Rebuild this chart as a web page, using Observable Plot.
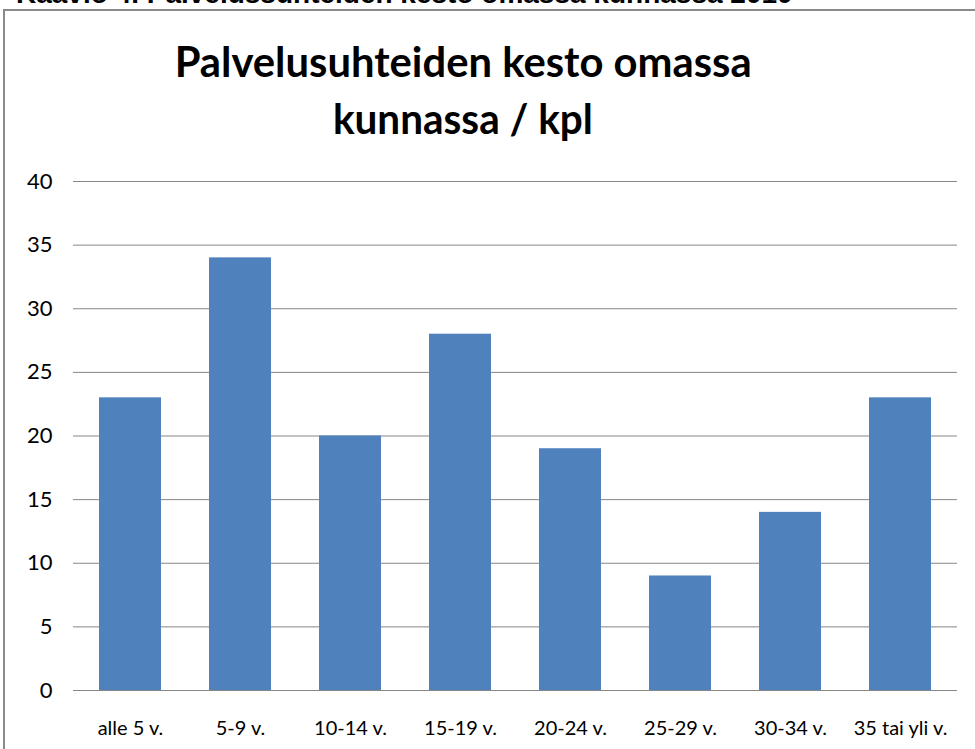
<!DOCTYPE html>
<html>
<head>
<meta charset="utf-8">
<script src="https://cdn.jsdelivr.net/npm/d3@7"></script>
<script src="https://cdn.jsdelivr.net/npm/@observablehq/plot@0.6"></script>
<style>
  html, body { margin: 0; padding: 0; background: #fff; }
  #page { position: relative; width: 975px; height: 749px; overflow: hidden; background: #fff; }
  #cut { position: absolute; left: 16px; top: -20px; font: bold 28px "Liberation Sans", Arial, sans-serif; line-height: 28px; white-space: nowrap; color: #000; }
  #frame { position: absolute; left: 3px; top: 9px; width: 1000px; height: 800px; border-left: 2px solid #8a8a8a; border-top: 2px solid #8a8a8a; }
  .title { position: absolute; left: 0; width: 926px; text-align: center; font: bold 42px Lato, "Open Sans", sans-serif; line-height: 42px; color: #000; white-space: nowrap; }
  .title span { display: inline-block; transform-origin: center; }
  #chart { position: absolute; left: 0; top: 150px; }
</style>
</head>
<body>
<div id="page">
  <div id="cut">Kaavio 4. Palvelussuhteiden kesto omassa kunnassa 2010</div>
  <div id="frame"></div>
  <div class="title" id="t1" style="top:40px"><span>Palvelusuhteiden kesto omassa</span></div>
  <div class="title" id="t2" style="top:97px"><span>kunnassa / kpl</span></div>
  <div id="chart"></div>
</div>
<script>
const categories = ["alle 5 v.", "5-9 v.", "10-14 v.", "15-19 v.", "20-24 v.", "25-29 v.", "30-34 v.", "35 tai yli v."];
const values = [23, 34, 20, 28, 19, 9, 14, 23];
const yTicks = [0, 5, 10, 15, 20, 25, 30, 35, 40];

const data = categories.map((c, i) => ({category: c, value: values[i]}));

// fit title widths to reference
const targets = {t1: 577, t2: 260};
for (const id of ["t1", "t2"]) {
  const span = document.querySelector("#" + id + " span");
  const w = span.getBoundingClientRect().width;
  span.style.transform = `scaleX(${targets[id] / w})`;
}

const chart = Plot.plot({
  width: 975,
  height: 599,
  marginTop: 31,
  marginBottom: 59,
  marginLeft: 73,
  marginRight: 18,
  style: {fontFamily: "Lato, 'Open Sans', sans-serif", fontSize: "21px", color: "#000", background: "transparent"},
  x: {domain: categories, paddingInner: 0.44, paddingOuter: 0.22, label: null},
  y: {domain: [0, 40], label: null},
  marks: [
    Plot.ruleY(yTicks, {stroke: "#868686", strokeWidth: 1}),
    Plot.barY(data, {x: "category", y: "value", fill: "#4f81bd"}),
    Plot.axisY({ticks: yTicks, tickSize: 0, tickPadding: 21, label: null, fontSize: 22}),
    Plot.axisX({tickSize: 0, tickPadding: 30, label: null, fontSize: 20})
  ]
});
document.getElementById("chart").appendChild(chart);
</script>
</body>
</html>
